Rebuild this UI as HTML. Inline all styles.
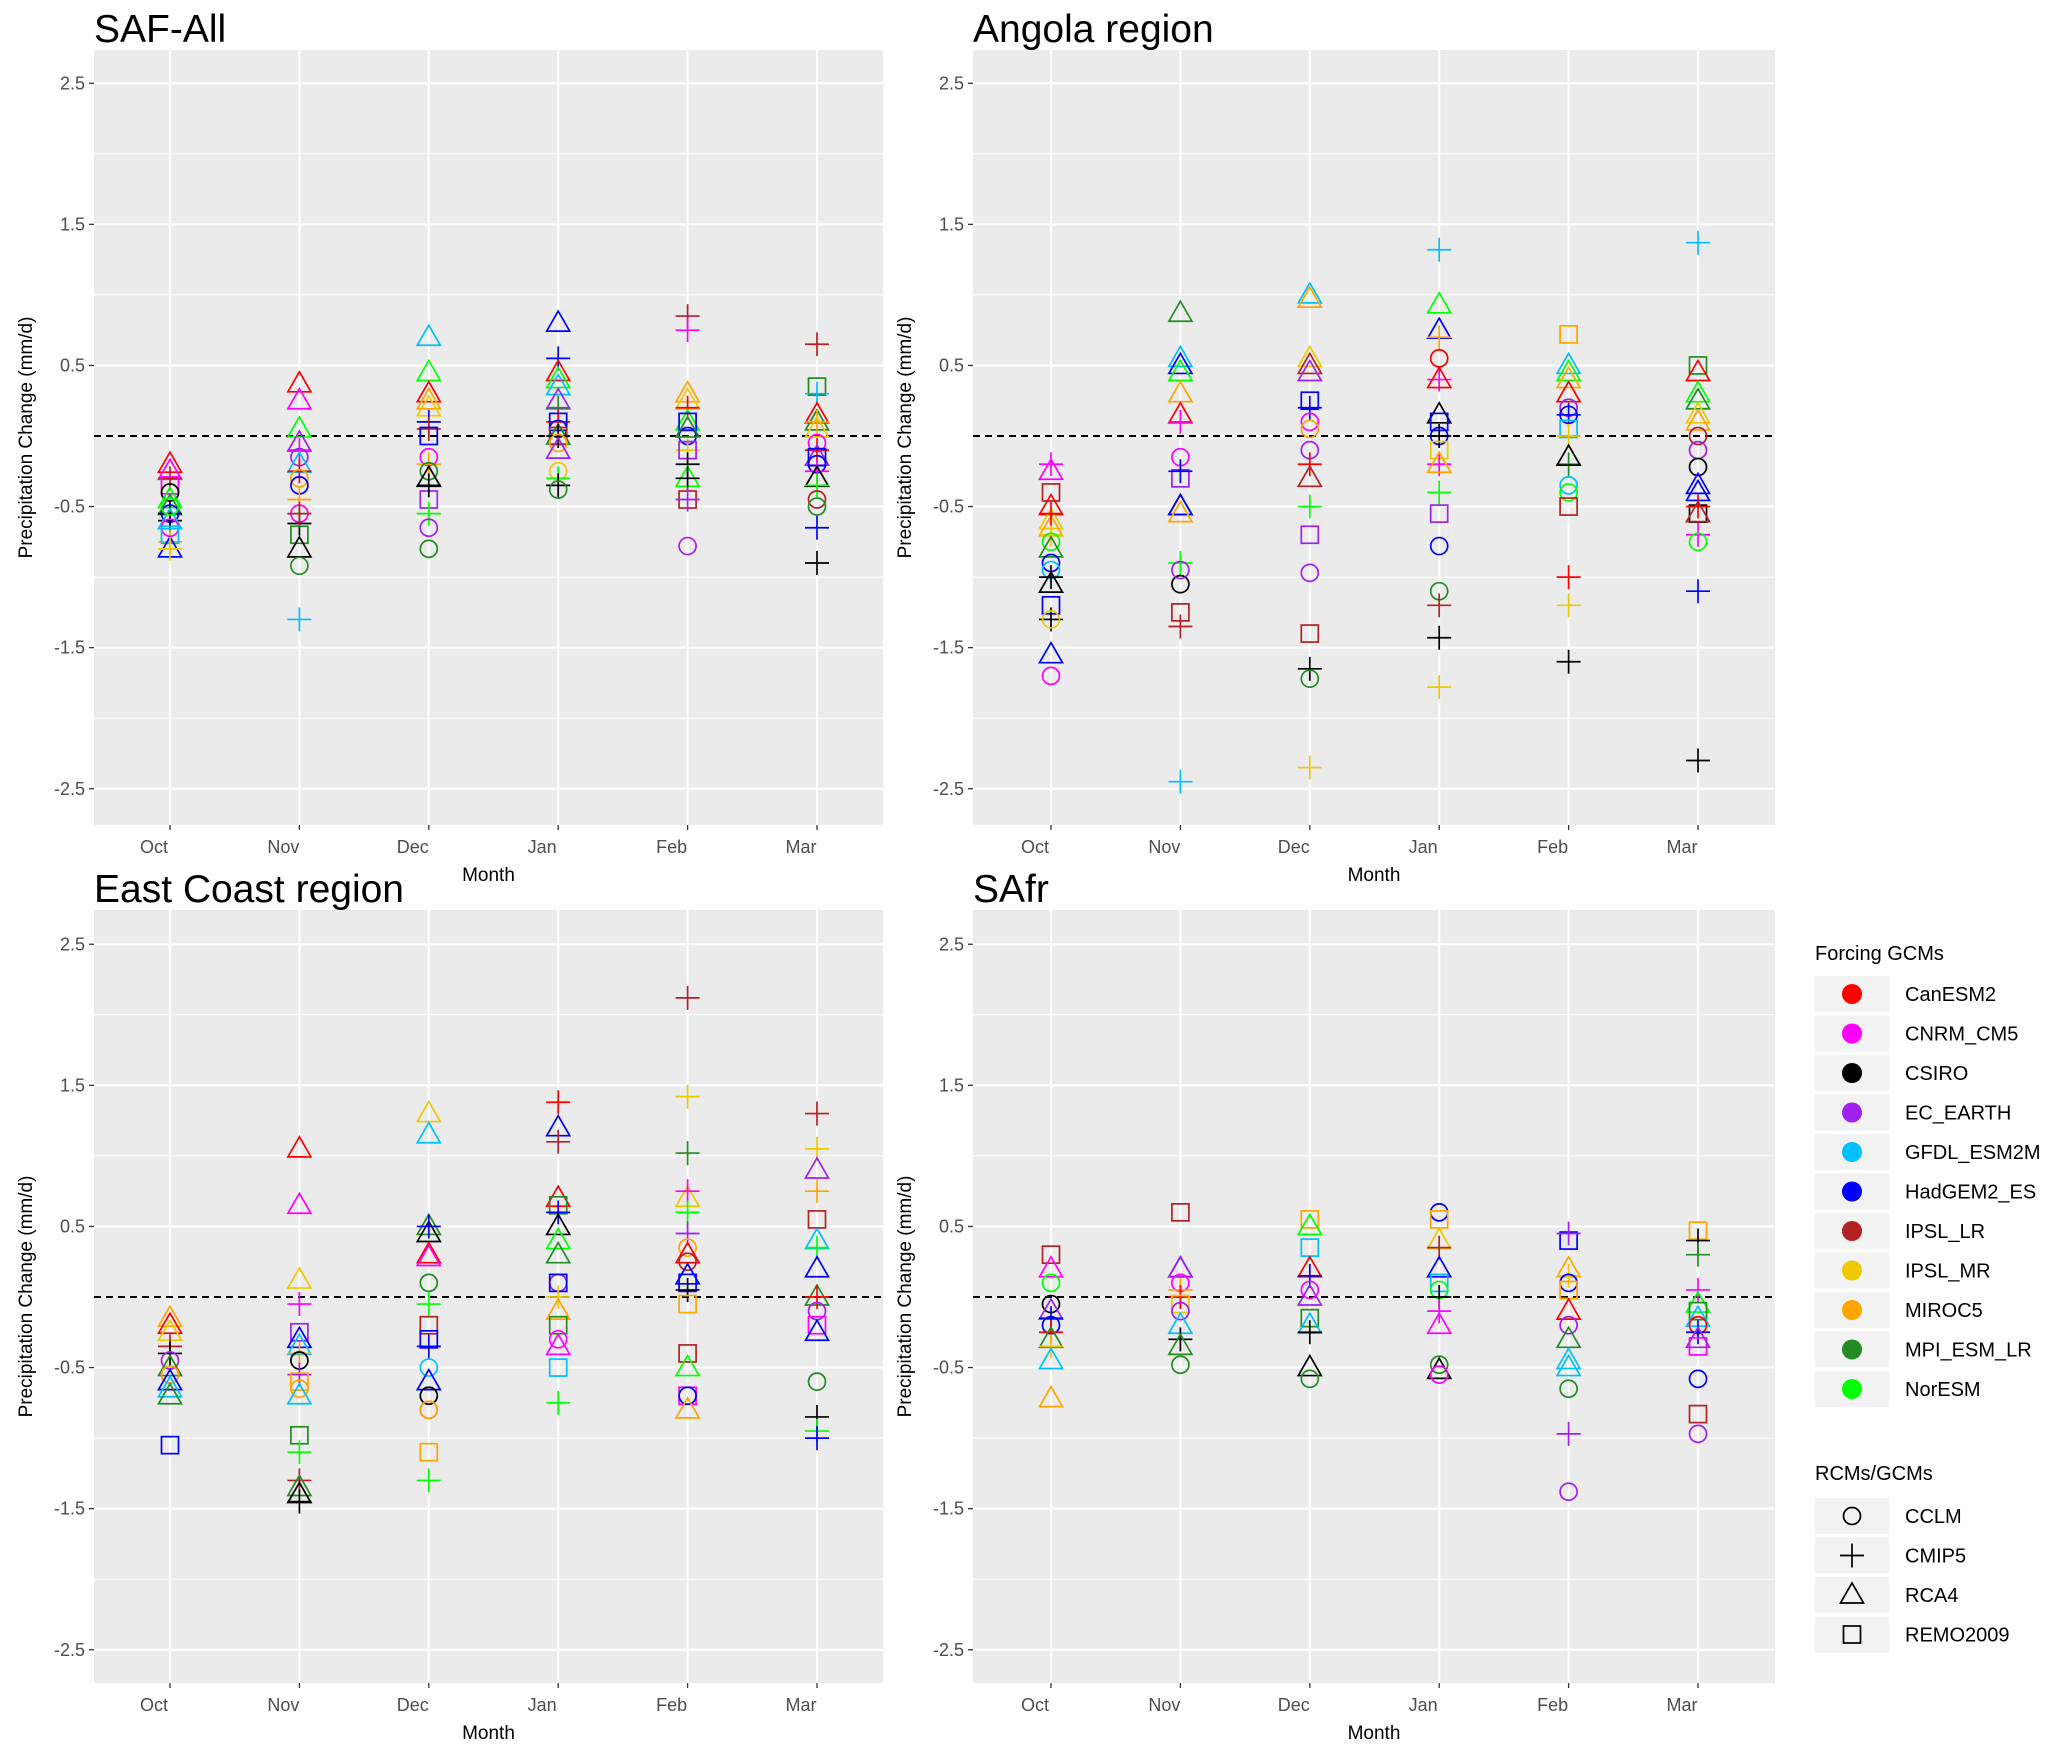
<!DOCTYPE html>
<html><head><meta charset="utf-8"><title>Precipitation Change</title>
<style>body{margin:0;background:#fff}svg{display:block;font-family:"Liberation Sans",sans-serif}</style>
</head><body>
<svg id="chart" width="2067" height="1758" viewBox="0 0 2067 1758" xmlns="http://www.w3.org/2000/svg"></svg>
<script>
const months = ["Oct","Nov","Dec","Jan","Feb","Mar"];
const yTicks = [2.5,1.5,0.5,-0.5,-1.5,-2.5];
const gcmNames = ["CanESM2","CNRM_CM5","CSIRO","EC_EARTH","GFDL_ESM2M","HadGEM2_ES","IPSL_LR","IPSL_MR","MIROC5","MPI_ESM_LR","NorESM"];
const gcmKeys = ["R","M","K","P","C","B","F","Y","O","D","G"];
const gcmColors = ["#ff0000","#ff00ff","#000000","#a020f0","#00bfff","#0000ff","#b22222","#eec900","#ffa500","#228b22","#00ff00"];
const rcmNames = ["CCLM","CMIP5","RCA4","REMO2009"];
const rcmKeys = ["c","p","t","s"];
// shape+gcm value, per month
const safAll = [
"tR -.2 tM -.25 pF -.3 sM -.35 cK -.4 tG -.45 tD -.5 pK -.55 pK -.6 cB -.55 tC -.6 cM -.65 pO -.75 sC -.7 tB -.8 pY -.8 cG -.5",
"tR .37 tM .25 tG .05 tP -.05 pM -.1 cP -.15 tC -.2 pR -.25 cO -.3 cB -.35 pO -.45 cM -.55 pK -.62 sD -.7 tK -.8 cD -.92 pC -1.3 pF -.55",
"tC .7 tG .45 tR .3 tO .25 tY .2 pB .1 pF .05 sB 0 cM -.15 pO -.2 cD -.25 tK -.3 sP -.45 pG -.55 cP -.65 cD -.8 pK -.35",
"tB .8 pB .55 tR .45 tG .4 tC .35 tP .25 pD .2 pR .1 sB .1 cB .05 tD 0 sF 0 pK 0 cO -.05 tP -.1 cY -.25 pG -.3 pK -.35 cD -.38",
"pF .85 pM .75 tO .3 tY .25 pR .2 tG .1 sB .1 cB 0 tD .05 pY -.1 sP -.1 pK -.2 tG -.3 pK -.3 sF -.45 pP -.45 cP -.78",
"pF .65 sD .35 pC .3 tR .15 tD .1 pO .1 tY .05 cM -.05 pR -.1 tP -.15 sB -.15 cB -.2 pM -.25 tK -.3 pG -.35 cF -.45 cD -.5 pB -.65 pK -.9"];
const angola = [
"pM -.2 tM -.25 sF -.4 tR -.5 tY -.6 tO -.65 pY -.7 cG -.75 tD -.8 cB -.9 cC -.95 pK -1 tK -1.05 sB -1.2 pK -1.3 cY -1.3 tB -1.55 cM -1.7 pR -.55",
"tD .87 tC .55 tB .5 tG .45 tO .3 tR .15 pM .1 cM -.15 sP -.3 pB -.25 tK -.5 tB -.5 tO -.55 pG -.9 cK -1.05 cP -.95 sF -1.25 pF -1.35 pC -2.45",
"tC 1 tO .97 tY .55 tF .5 tP .45 sB .25 pB .2 cM .1 cO .05 cP -.1 pR -.2 tF -.3 pG -.5 sP -.7 cP -.97 sF -1.4 pK -1.65 cD -1.72 pY -2.35",
"pC 1.32 tG .93 tB .75 pO .7 cR .55 pM .4 tR .4 tK .15 sB .1 cB 0 pK 0 sY -.1 pY -.2 pM -.2 tO -.2 pG -.4 sP -.55 cB -.78 cD -1.1 pF -1.2 pK -1.43 pY -1.78",
"sO .72 tC .5 tG .45 tO .4 tR .3 cP .2 cB .15 pB .15 sC .05 pY 0 pD -.2 tK -.15 cC -.35 cG -.4 sF -.5 pR -1 pY -1.2 pK -1.6",
"pC 1.37 sD .5 tR .45 tG .3 tD .25 tY .15 tO .1 cF 0 cP -.1 cK -.22 tB -.35 tB -.4 sK -.55 pR -.5 tF -.55 pM -.7 cG -.75 pB -1.1 pK -2.3"];
const eastCoast = [
"tO -.15 tR -.2 tY -.25 pF -.35 pK -.4 cP -.45 tD -.5 cM -.55 cO -.55 tB -.6 tC -.65 tD -.7 sB -1.05",
"tR 1.05 tM .65 tY .12 pM -.05 sP -.25 tB -.3 tC -.35 pO -.4 cK -.45 pP -.55 sO -.6 cO -.65 tC -.7 sD -.98 pG -1.1 pF -1.3 tD -1.35 tK -1.4 pK -1.45",
"tY 1.3 tC 1.15 tD .5 tK .45 pB .5 tR .3 tM .28 cD .1 pG -.05 sF -.2 sB -.3 pB -.35 cC -.5 tB -.6 cK -.7 cP -.8 cO -.8 sO -1.1 pG -1.3",
"pR 1.38 tB 1.2 pF 1.1 tR .7 sD .65 pB .6 tK .5 tG .4 tD .3 cP .1 sB .1 pY 0 tO -.1 sD -.2 cM -.3 tM -.35 sC -.5 pG -.75",
"pF 2.12 pY 1.42 pD 1.02 tY .7 pM .75 pG .6 pP .45 cO .35 tR .3 cF .25 tB .15 sB .1 pK .05 sO -.05 sF -.4 tG -.5 sM -.7 cB -.7 tO -.8",
"pF 1.3 pY 1.05 tP .9 pO .75 sF .55 tC .4 pG .35 tB .2 tD 0 pR 0 cP -.1 sM -.2 tB -.25 cD -.6 pK -.85 pG -.95 pB -1"];
const safr = [
"sF .3 tM .2 cG .1 cK -.05 tP -.1 pB -.15 cB -.2 pR -.25 tD -.3 pY -.35 tC -.45 tO -.72",
"sF .6 tB .2 tP .2 cM .1 pO .05 pR 0 sY -.05 cP -.1 tC -.2 pK -.3 tD -.35 cD -.48",
"sO .55 tG .5 sC .35 tR .2 pB .15 cM .05 tP 0 sD -.15 tC -.2 pK -.25 tK -.5 cD -.58",
"cB .6 sO .55 tY .4 pF .35 tB .2 sC .1 cG .05 pK 0 pM -.1 tM -.2 cD -.48 tK -.52 cM -.55",
"sB .4 pP .45 tO .2 pY .15 cB .1 sO .05 tR -.1 cP -.2 tD -.3 tC -.45 tC -.5 cD -.65 pP -.97 cP -1.38",
"sO .47 pK .4 pD .3 pM .05 tG -.05 sD -.1 tC -.15 cR -.2 pB -.25 sM -.35 tP -.3 cB -.58 sF -.83 cP -.97"];

const NS="http://www.w3.org/2000/svg";
const svg=document.getElementById('chart');
function el(tag,attrs,parent,text){const e=document.createElementNS(NS,tag);for(const k in attrs)e.setAttribute(k,attrs[k]);if(text!==undefined)e.textContent=text;(parent||svg).appendChild(e);return e;}

function marker(g,shape,color,x,y){
  const a={fill:"none",stroke:color,"stroke-width":1.7};
  let m;
  if(shape==="c"){m=el("circle",Object.assign({cx:x,cy:y,r:8.5},a),g);}
  else if(shape==="p"){m=el("path",Object.assign({d:`M${x-12},${y}H${x+12}M${x},${y-12}V${y+12}`},a),g);}
  else if(shape==="t"){m=el("path",Object.assign({d:`M${x},${y-12}L${x+11.5},${y+8}L${x-11.5},${y+8}Z`},a),g);}
  else {m=el("rect",Object.assign({x:x-8.5,y:y-8.5,width:17,height:17},a),g);}
  return m;
}

function panel(name,title,data,x0,x1,y0,y1,zeroY,xFirst,xLast){
  const g=el("g",{});
  
  
  const unit=141.1;
  const yS=v=>zeroY-v*unit;
  const step=(xLast-xFirst)/(months.length-1);
  const xS=i=>xFirst+step*i;
  const bg=el("rect",{x:x0,y:y0,width:x1-x0,height:y1-y0,fill:"#ebebeb"},g);
  
  
  for(let v=-2.5;v<=2.51;v+=0.5){const y=yS(v);if(y<y0||y>y1)continue;
    const major=Math.abs((Math.abs(v)*2)%2-1)<0.01;
    el("line",{x1:x0,x2:x1,y1:y,y2:y,stroke:"#fff","stroke-width":major?2:1},g);}
  months.forEach((m,i)=>{const x=xS(i);
    el("line",{x1:x,x2:x,y1:y0,y2:y1,stroke:"#fff","stroke-width":2},g);
    el("line",{x1:x,x2:x,y1:y1,y2:y1+5,stroke:"#333","stroke-width":1.3},g);
    const t=el("text",{x:x-16,y:y1+28,"text-anchor":"middle","font-size":18,fill:"#4d4d4d"},g,m);
    
    
  });
  yTicks.forEach(v=>{const y=yS(v);
    el("line",{x1:x0-5,x2:x0,y1:y,y2:y,stroke:"#333","stroke-width":1.3},g);
    const t=el("text",{x:x0-9,y:y+6,"text-anchor":"end","font-size":18,fill:"#4d4d4d"},g,String(v));
    
    
  });
  const zl=el("line",{x1:x0,x2:x1,y1:yS(0),y2:yS(0),stroke:"#000","stroke-width":2,"stroke-dasharray":"7,5"},g);
  
  
  data.forEach((s,i)=>{const tk=s.trim().split(/\s+/);
    for(let k=0;k<tk.length;k+=2){const shape=tk[k][0],ck=tk[k][1],v=parseFloat(tk[k+1]);
      const col=gcmColors[gcmKeys.indexOf(ck)];
      const m=marker(g,shape,col,xS(i),yS(v));
      
      
    }});
  const tt=el("text",{x:x0,y:y0-8,"font-size":39,fill:"#000"},g,title);
  
  
  const xt=el("text",{x:(x0+x1)/2,y:y1+56,"text-anchor":"middle","font-size":19,fill:"#000"},g,"Month");
  
  
  const cy=(y0+y1)/2;
  const yt=el("text",{x:0,y:0,"text-anchor":"middle","font-size":19,fill:"#000",transform:`translate(${x0-62},${cy}) rotate(-90)`},g,"Precipitation Change (mm/d)");
  
  
}
panel("saf-all","SAF-All",safAll,94,883,50,825,436,170,817);
panel("angola","Angola region",angola,973,1775,50,825,436,1051,1698);
panel("east-coast","East Coast region",eastCoast,94,883,910,1683,1297,170,817);
panel("safr","SAfr",safr,973,1775,910,1683,1297,1051,1698);

// legend
const lg=el("g",{});


const lt1=el("text",{x:1815,y:960,"font-size":20,fill:"#000"},lg,"Forcing GCMs");


gcmNames.forEach((n,i)=>{const cy=994+i*39.5;
  const e=el("g",{},lg);
  
  
  el("rect",{x:1815,y:cy-18,width:74,height:36,fill:"#f2f2f2"},e);
  el("circle",{cx:1852,cy:cy,r:10,fill:gcmColors[i]},e);
  el("text",{x:1905,y:cy+7,"font-size":20,fill:"#000"},e,n);
});
const lt2=el("text",{x:1815,y:1480,"font-size":20,fill:"#000"},lg,"RCMs/GCMs");


rcmNames.forEach((n,i)=>{const cy=1516+i*39.5;
  const e=el("g",{},lg);
  
  
  el("rect",{x:1815,y:cy-18,width:74,height:36,fill:"#f2f2f2"},e);
  marker(e,rcmKeys[i],"#000",1852,cy);
  el("text",{x:1905,y:cy+7,"font-size":20,fill:"#000"},e,n);
});
</script>
</body></html>
